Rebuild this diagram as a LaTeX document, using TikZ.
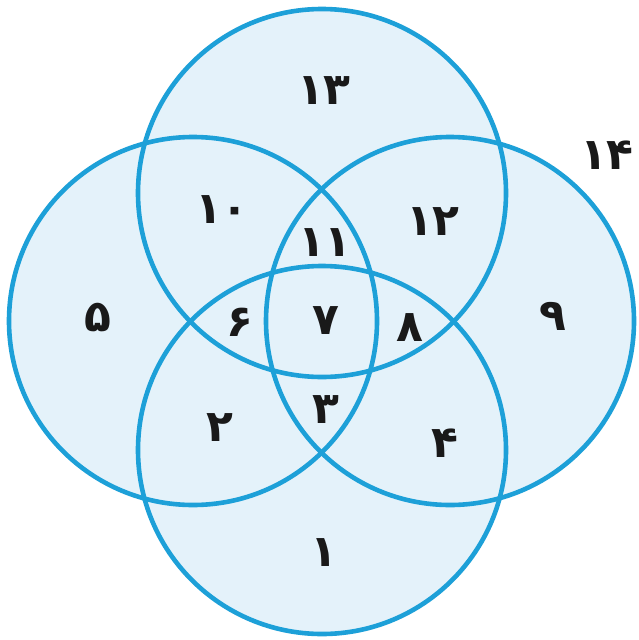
\documentclass[tikz,border=0pt]{standalone}
\usepackage{fontspec}
\newfontfamily\fa[Script=Arabic]{DejaVu Sans}
\definecolor{ring}{HTML}{1DA0D8}
\definecolor{shade}{HTML}{E4F2FA}
\tikzset{
  num/.style={font=\fa\bfseries\fontsize{44}{44}\selectfont, text=black!90, inner sep=0pt},
  setfill/.style={fill=shade, draw=none},
  setline/.style={draw=ring, line width=4.6pt}
}
\begin{document}
\begin{tikzpicture}[x=1pt,y=-1pt]
\useasboundingbox (0,0) rectangle (639,640);
\fill[white] (0,0) rectangle (639,640);
% fills
\foreach \cx/\cy in {322/193, 193/321, 450/321, 322/450}
  \path[setfill] (\cx,\cy) circle[radius=184];
% outlines
\foreach \cx/\cy in {322/193, 193/321, 450/321, 322/450}
  \path[setline] (\cx,\cy) circle[radius=184];
% labels
\node[num] (n13) at (324,91) {۱۳};
\node[num] (n14) at (607,155) {۱۴};
\node[num] (n10) at (222,210) {۱۰};
\node[num] (n11) at (325,243) {۱۱};
\node[num] (n12) at (433,222) {۱۲};
\node[num] (n5) at (98,318) {۵};
\node[num] (n6) at (240,322) {۶};
\node[num] (n7) at (326,321) {۷};
\node[num] (n8) at (410,328) {۸};
\node[num] (n9) at (553,316) {۹};
\node[num] (n2) at (220,428) {۲};
\node[num] (n3) at (326,410) {۳};
\node[num] (n4) at (445,443) {۴};
\node[num] (n1) at (324,553) {۱};
\end{tikzpicture}
\end{document}
